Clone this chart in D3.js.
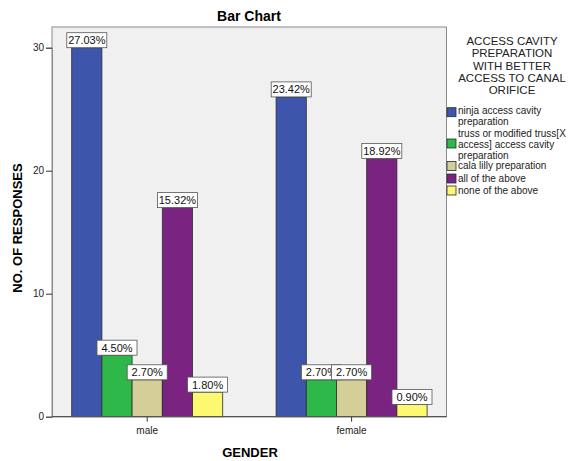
<!DOCTYPE html>
<html><head><meta charset="utf-8">
<script src="https://cdn.jsdelivr.net/npm/d3@7"></script>
<style>body{margin:0;background:#fff;}text{font-family:Arial,"Liberation Sans",sans-serif;}</style>
</head><body>
<svg id="c" width="572" height="461"></svg>
<script>
const genders = ["male", "female"];
const series = ["ninja access cavity preparation", "truss or modified truss[X access] access cavity preparation", "cala lilly preparation", "all of the above", "none of the above"];
const legendLines = [["ninja access cavity", "preparation"], ["truss or modified truss[X", "access] access cavity", "preparation"], ["cala lilly preparation"], ["all of the above"], ["none of the above"]];
const maleValues = [30, 5, 3, 17, 2];
const femaleValues = [26, 3, 3, 21, 1];
const malePct = ["27.03%", "4.50%", "2.70%", "15.32%", "1.80%"];
const femalePct = ["23.42%", "2.70%", "2.70%", "18.92%", "0.90%"];
const colors = ["#3d56ab", "#2fb84a", "#d4cf98", "#7b2380", "#fcf870"];
const yTicks = [0, 10, 20, 30];
const legendTitle = ["ACCESS CAVITY", "PREPARATION", "WITH BETTER", "ACCESS TO CANAL", "ORIFICE"];

const svg = d3.select("#c");
const L = 52, R = 446.5, T = 27, B = 416.7;
const y = d3.scaleLinear().domain([0, 30]).range([B, 47.7]);
const groupW = 151;
const x0 = d3.scalePoint().domain(genders).range([147.2, 351.6]);
const x1 = d3.scaleBand().domain(d3.range(series.length)).range([0, groupW]);

svg.append("rect").attr("x", L).attr("y", T).attr("width", R - L).attr("height", B - T)
  .attr("fill", "#f0f0f0").attr("stroke", "#8a8a8a").attr("stroke-width", 1);

const data = [maleValues, femaleValues];
const pcts = [malePct, femalePct];
genders.forEach((g, gi) => {
  const cx = x0(g);
  const grp = svg.append("g").attr("transform", `translate(${cx - groupW / 2},0)`);
  data[gi].forEach((v, si) => {
    grp.append("rect").attr("x", x1(si)).attr("y", y(v)).attr("width", x1.bandwidth()).attr("height", y(0) - y(v))
      .attr("fill", colors[si]).attr("stroke", "#2b2b2b").attr("stroke-width", 0.8);
  });
  data[gi].forEach((v, si) => {
    const bx = x1(si) + x1.bandwidth() / 2;
    const w = 40, h = 15;
    grp.append("rect").attr("x", bx - w / 2).attr("y", y(v) - h).attr("width", w).attr("height", h)
      .attr("fill", "#fff").attr("stroke", "#555").attr("stroke-width", 0.8);
    grp.append("text").attr("x", bx).attr("y", y(v) - 3.5).attr("text-anchor", "middle")
      .attr("font-size", "11px").attr("fill", "#111").text(pcts[gi][si]);
  });
  svg.append("line").attr("x1", cx).attr("x2", cx).attr("y1", B).attr("y2", B + 5).attr("stroke", "#333");
  svg.append("text").attr("x", cx).attr("y", B + 17).attr("text-anchor", "middle").attr("font-size", "10px").attr("fill", "#222").text(g);
});

// y axis
const yAxis = svg.append("g").attr("transform", `translate(${L},0)`)
  .call(d3.axisLeft(y).tickValues(yTicks).tickSize(6).tickPadding(2));
yAxis.select(".domain").attr("stroke", "#8a8a8a");
yAxis.selectAll(".tick line").attr("stroke", "#333");
yAxis.selectAll(".tick text").attr("font-size", "10px").attr("fill", "#222").attr("font-family", "Arial,'Liberation Sans',sans-serif");
svg.append("line").attr("x1", L).attr("x2", R).attr("y1", B).attr("y2", B).attr("stroke", "#555").attr("stroke-width", 1.2);

svg.append("text").attr("x", 249).attr("y", 21).attr("text-anchor", "middle").attr("font-size", "14px").attr("font-weight", "bold").text("Bar Chart");
svg.append("text").attr("x", 250).attr("y", 457).attr("text-anchor", "middle").attr("font-size", "13px").attr("font-weight", "bold").text("GENDER");
svg.append("text").attr("transform", "translate(22,228) rotate(-90)").attr("text-anchor", "middle").attr("font-size", "13px").attr("font-weight", "bold").text("NO. OF RESPONSES");

// legend
legendTitle.forEach((t, i) => {
  svg.append("text").attr("x", 512).attr("y", 45 + i * 12.3).attr("text-anchor", "middle").attr("font-size", "11.5px").attr("fill", "#222").text(t);
});
const swY = [107.7, 139, 161.5, 174, 186];
legendLines.forEach((lines, i) => {
  svg.append("rect").attr("x", 447).attr("y", swY[i]).attr("width", 9).attr("height", 9)
    .attr("fill", colors[i]).attr("stroke", "#2b2b2b").attr("stroke-width", 0.8);
});
const textStarts = [114, 137, 169, 181.5, 194];
legendLines.forEach((lines, i) => {
  lines.forEach((ln, j) => {
    svg.append("text").attr("x", 458).attr("y", textStarts[i] + j * 11).attr("font-size", "10px").attr("fill", "#222").text(ln);
  });
});
</script>
</body></html>
